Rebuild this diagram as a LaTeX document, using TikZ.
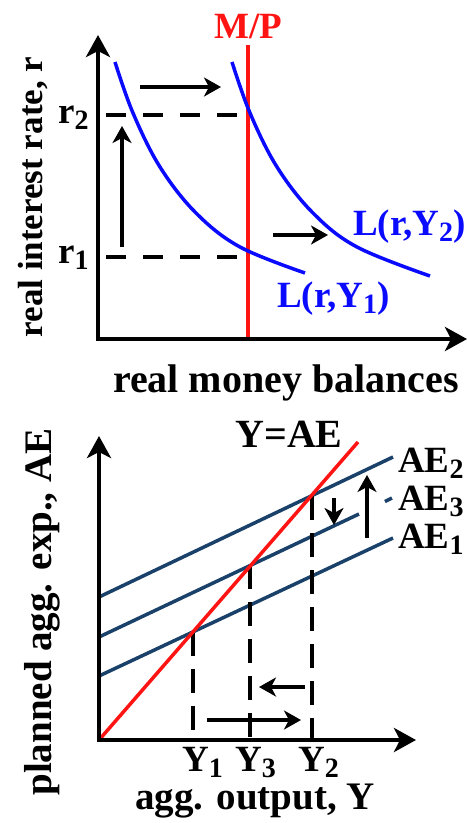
\documentclass[tikz,border=0pt]{standalone}
\usepackage{fontspec}
\setmainfont{Liberation Serif}
\usetikzlibrary{arrows.meta}
\definecolor{aeblue}{RGB}{25,65,105}
\definecolor{mpred}{RGB}{255,20,20}
\definecolor{lblue}{RGB}{10,10,255}
\newcommand{\sbs}[1]{\raisebox{-6pt}{\fontsize{28}{28}\selectfont #1}}
\tikzset{
  lab/.style={font=\fontsize{37}{40}\selectfont\bfseries, inner sep=0pt},
  axisline/.style={line width=4pt, black, {Stealth[length=22pt,width=24pt,inset=6pt]}-{Stealth[length=22pt,width=24pt,inset=6pt]}},
  movearrow/.style={line width=4.5pt, black, -{Stealth[length=17pt,width=19pt,inset=5pt]}},
  guide/.style={line width=3.5pt, black, dash pattern=on 20pt off 17pt},
  vguide/.style={line width=3.5pt, black, dash pattern=on 24pt off 13pt},
  lcurve/.style={line width=3.5pt, lblue},
  aeline/.style={line width=3.5pt, aeblue},
  redline/.style={line width=3.5pt, mpred}
}
\begin{document}
\begin{tikzpicture}[x=1pt,y=-1pt]
\useasboundingbox (0,0) rectangle (468,823);
% ---------- top panel ----------
\coordinate (ytop1) at (98,35);
\coordinate (o1) at (98,339);
\coordinate (xend1) at (467,339);
\coordinate (mpt) at (248,45);
\coordinate (mpb) at (248,337);
\coordinate (r2a) at (106,115);
\coordinate (r2b) at (248,115);
\coordinate (r1a) at (106,257);
\coordinate (r1b) at (248,257);
\coordinate (upa) at (122,247);
\coordinate (upb) at (122,126);
\coordinate (ta) at (140,87);
\coordinate (tb) at (221,87);
\coordinate (ma) at (273,235);
\coordinate (mb) at (328,235);

\draw[redline] (mpt) -- (mpb);
\draw[guide] (r2a) -- (r2b);
\draw[guide] (r1a) -- (r1b);
\draw[lcurve] plot[smooth, tension=0.6] coordinates {(115,62) (133,113) (160,167) (196,213) (240,247) (305,273)};
\draw[lcurve] plot[smooth, tension=0.6] coordinates {(232,62) (250,113) (277,167) (313,213) (357,247) (430,276)};
\draw[axisline] (ytop1) -- (o1) -- (xend1);
\draw[movearrow] (upa) -- (upb);
\draw[movearrow] (ta) -- (tb);
\draw[movearrow] (ma) -- (mb);

\node[lab, text=mpred, anchor=base] (mp) at (248,38) {M/P};
\node[lab, anchor=base west] (r2) at (58,123) {r\sbs{2}};
\node[lab, anchor=base west] (r1) at (58,263) {r\sbs{1}};
\node[lab, text=lblue, anchor=base west] (l2) at (353,235) {L(r,Y\sbs{2})};
\node[lab, text=lblue, anchor=base west] (l1) at (277,307) {L(r,Y\sbs{1})};
\node[lab, font=\fontsize{35}{38}\selectfont\bfseries, rotate=90, anchor=base] (yl1) at (42,197) {real interest rate, r};
\node[lab, font=\fontsize{40}{42}\selectfont\bfseries, anchor=base] (xl1) at (286,392) {real money balances};

% ---------- bottom panel ----------
\coordinate (ytop2) at (99,436);
\coordinate (o2) at (99,740);
\coordinate (xend2) at (416,740);
\coordinate (rt) at (358,442);
\coordinate (ae2a) at (99,597);
\coordinate (ae2b) at (393,457);
\coordinate (ae3a) at (99,637);
\coordinate (ae3b) at (359,514);
\coordinate (ae3c) at (385,501.5);
\coordinate (ae3d) at (392,498);
\coordinate (ae1a) at (99,676);
\coordinate (ae1b) at (393,538);
\coordinate (y1t) at (193,632);
\coordinate (y1b) at (193,740);
\coordinate (y3t) at (250,565);
\coordinate (y3b) at (250,740);
\coordinate (y2t) at (312,496);
\coordinate (y2b) at (312,740);
\coordinate (dna) at (334,498);
\coordinate (dnb) at (334,525);
\coordinate (upc) at (367,538);
\coordinate (upd) at (367,475);
\coordinate (lfa) at (305,687);
\coordinate (lfb) at (259,687);
\coordinate (rta) at (207,720);
\coordinate (rtb) at (301,720);

\draw[aeline] (ae2a) -- (ae2b);
\draw[aeline] (ae3a) -- (ae3b);
\draw[aeline] (ae3c) -- (ae3d);
\draw[aeline] (ae1a) -- (ae1b);
\draw[vguide] (y1t) -- (y1b);
\draw[vguide] (y3t) -- (y3b);
\draw[vguide] (y2t) -- (y2b);
\draw[redline] (o2) -- (rt);
\draw[axisline] (ytop2) -- (o2) -- (xend2);
\draw[movearrow] (dna) -- (dnb);
\draw[movearrow] (upc) -- (upd);
\draw[movearrow] (lfa) -- (lfb);
\draw[movearrow] (rta) -- (rtb);

\node[lab, font=\fontsize{40}{42}\selectfont\bfseries, anchor=base] (yae) at (289,447) {Y=AE};
\node[lab, anchor=base west] (ae2) at (398,472) {AE\sbs{2}};
\node[lab, anchor=base west] (ae3) at (398,510) {AE\sbs{3}};
\node[lab, anchor=base west] (ae1) at (398,548) {AE\sbs{1}};
\node[lab, anchor=base west, text depth=5pt] (ly1) at (182,771) {Y\sbs{1}};
\node[lab, anchor=base west, text depth=5pt] (ly3) at (235,771) {Y\sbs{3}};
\node[lab, anchor=base west, text depth=5pt] (ly2) at (298,771) {Y\sbs{2}};
\node[lab, font=\fontsize{39}{42}\selectfont\bfseries, anchor=base, text height=26pt] (xl2) at (255,809) {agg. output, Y};
\node[lab, font=\fontsize{39}{42}\selectfont\bfseries, rotate=90, anchor=base] (yl2) at (52,612) {planned agg. exp., AE};
\end{tikzpicture}
\end{document}
